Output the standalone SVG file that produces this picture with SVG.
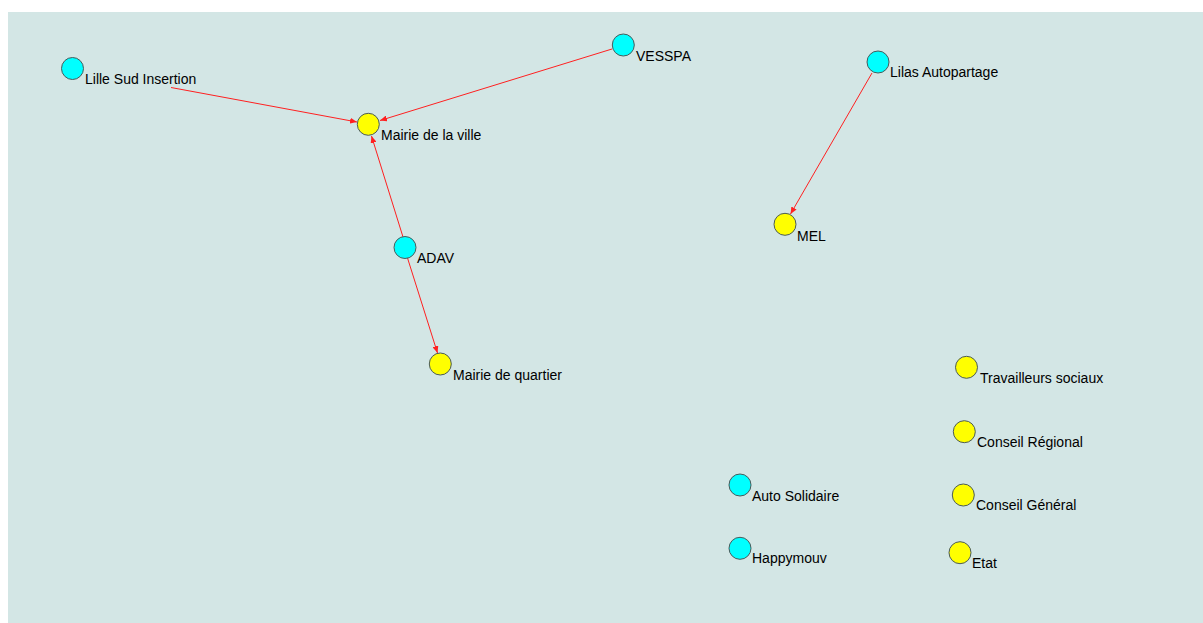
<svg xmlns="http://www.w3.org/2000/svg" width="1203" height="623" viewBox="0 0 1203 623">
<style>
.n circle{stroke:#4a5a5a;stroke-width:1}
.c circle{fill:#00ffff}
.y circle{fill:#ffff00}
text{font-family:"Liberation Sans",Arial,sans-serif;font-size:14px;fill:#000}
.e line{stroke:#ff2020;stroke-width:1;marker-end:url(#ah)}
</style>
<defs>
<marker id="ah" markerWidth="7" markerHeight="6" refX="7" refY="3" orient="auto" markerUnits="userSpaceOnUse">
<path d="M0,0 L7,3 L0,6 z" fill="#ff2020"/>
</marker>
</defs>
<rect x="0" y="0" width="1203" height="623" fill="#ffffff"/>
<rect x="8" y="12" width="1195" height="611" fill="#d3e6e5"/>
<g id="edges" class="e">
<line x1="171" y1="87.5" x2="357" y2="122"/>
<line x1="612" y1="49" x2="380" y2="120.5"/>
<line x1="403" y1="237" x2="371.5" y2="136"/>
<line x1="407.5" y1="258" x2="437.5" y2="353"/>
<line x1="872" y1="73" x2="790.5" y2="214"/>
</g>
<g id="lille" class="n c"><circle cx="72.5" cy="68.5" r="11"/><text x="85" y="84">Lille Sud Insertion</text></g>
<g id="vesspa" class="n c"><circle cx="623.3" cy="45" r="11"/><text x="636" y="61">VESSPA</text></g>
<g id="mairie-ville" class="n y"><circle cx="368.3" cy="124.3" r="11"/><text x="381" y="140">Mairie de la ville</text></g>
<g id="adav" class="n c"><circle cx="405" cy="247.5" r="11"/><text x="417" y="263">ADAV</text></g>
<g id="mairie-quartier" class="n y"><circle cx="440.3" cy="364" r="11"/><text x="453" y="380">Mairie de quartier</text></g>
<g id="lilas" class="n c"><circle cx="878" cy="62" r="11"/><text x="890" y="77">Lilas Autopartage</text></g>
<g id="mel" class="n y"><circle cx="785" cy="224.3" r="11"/><text x="797" y="241">MEL</text></g>
<g id="travailleurs" class="n y"><circle cx="966.5" cy="367.3" r="11"/><text x="980" y="383">Travailleurs sociaux</text></g>
<g id="conseil-regional" class="n y"><circle cx="964.3" cy="431.7" r="11"/><text x="977" y="447">Conseil Régional</text></g>
<g id="conseil-general" class="n y"><circle cx="963.3" cy="495" r="11"/><text x="976" y="510">Conseil Général</text></g>
<g id="etat" class="n y"><circle cx="960" cy="552.7" r="11"/><text x="972" y="568">Etat</text></g>
<g id="auto-solidaire" class="n c"><circle cx="740" cy="485" r="11"/><text x="752" y="501">Auto Solidaire</text></g>
<g id="happymouv" class="n c"><circle cx="740" cy="548.3" r="11"/><text x="752" y="563">Happymouv</text></g>
</svg>
